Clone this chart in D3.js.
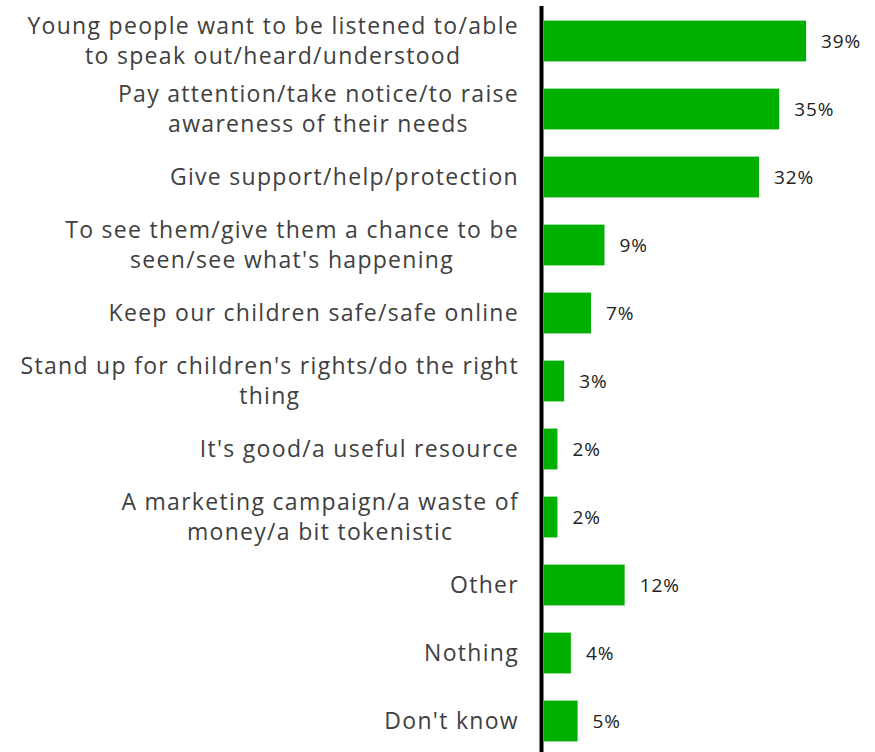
<!DOCTYPE html>
<html>
<head>
<meta charset="utf-8">
<script src="https://cdn.jsdelivr.net/npm/d3@7"></script>
<style>
  html, body { margin: 0; padding: 0; background: #fff; }
  svg { display: block; }
</style>
</head>
<body>
<svg id="chart" width="875" height="752"></svg>
<script>
// Each category is split into the lines it is shown on
const categories = [
  ["Young people want to be listened to/able", "to speak out/heard/understood"],
  ["Pay attention/take notice/to raise", "awareness of their needs"],
  ["Give support/help/protection"],
  ["To see them/give them a chance to be", "seen/see what's happening"],
  ["Keep our children safe/safe online"],
  ["Stand up for children's rights/do the right", "thing"],
  ["It's good/a useful resource"],
  ["A marketing campaign/a waste of", "money/a bit tokenistic"],
  ["Other"],
  ["Nothing"],
  ["Don't know"]
];
const values = [39, 35, 32, 9, 7, 3, 2, 2, 12, 4, 5];

const svg = d3.select("#chart");
const FONT = "'Open Sans', 'DejaVu Sans', sans-serif";
const labelSize = 23;
const valueSize = 19;
const lineGap = 30;
const labelRight = 519;

const keys = categories.map((c, i) => i);

const y = d3.scaleBand()
  .domain(keys)
  .range([7, 755])
  .paddingInner(0.4)
  .paddingOuter(0.2);

const x = d3.scaleLinear()
  .domain([0, 40])
  .range([544, 812.8]);

// bars
svg.append("g")
  .selectAll("rect")
  .data(values)
  .join("rect")
  .attr("x", x(0))
  .attr("y", (d, i) => y(i))
  .attr("width", d => x(d) - x(0))
  .attr("height", y.bandwidth())
  .attr("fill", "#00b000");

// value labels
svg.append("g")
  .selectAll("text")
  .data(values)
  .join("text")
  .attr("x", d => x(d) + 15)
  .attr("y", (d, i) => y(i) + y.bandwidth() / 2 + 7)
  .attr("font-family", FONT)
  .attr("font-size", valueSize)
  .attr("letter-spacing", 0.9)
  .attr("fill", "#222")
  .text(d => d + "%");

// category labels: block is right aligned, its lines centred on each other
const lab = svg.append("g");
categories.forEach((lines, i) => {
  const cy = y(i) + y.bandwidth() / 2;
  const t = lab.append("text")
    .attr("font-family", FONT)
    .attr("font-size", labelSize)
    .attr("letter-spacing", 1.3)
    .attr("fill", "#404040")
    .attr("text-anchor", "middle");
  const spans = lines.map((ln, j) =>
    t.append("tspan")
      .attr("y", cy + 7.5 + (j - (lines.length - 1) / 2) * lineGap)
      .text(ln));
  const maxW = d3.max(spans, s => s.node().getComputedTextLength());
  spans.forEach(s => s.attr("x", labelRight - maxW / 2));
});

// vertical axis line
svg.append("line")
  .attr("x1", 541.5).attr("x2", 541.5)
  .attr("y1", 6).attr("y2", 752)
  .attr("stroke", "#000")
  .attr("stroke-width", 4);
</script>
</body>
</html>
